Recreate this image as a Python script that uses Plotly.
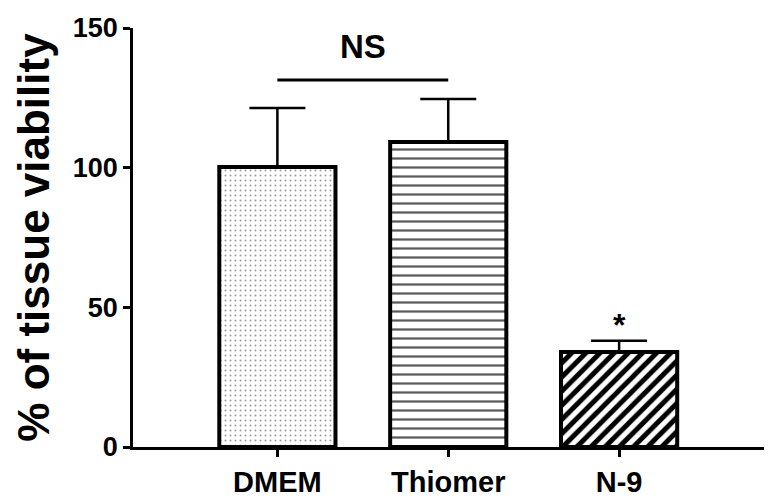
import plotly.graph_objects as go

groups = ["DMEM", "Thiomer", "N-9"]
viability = [100.2, 109.2, 34.0]
sd_upper = [21.2, 15.4, 4.0]
patterns = [".", "-", "/"]

ns_label = "NS"
ns_level = 131.4
ns_text_level = 143.2
star_label = "*"
star_level = 43.5

FONT = "Liberation Sans, Arial, sans-serif"

fig = go.Figure()

fig.add_trace(go.Bar(
    x=groups,
    y=viability,
    width=0.68,
    marker=dict(
        color="white",
        line=dict(color="black", width=4),
        pattern=dict(
            shape=patterns,
            fgcolor=["#9a9a9a", "#5a5a5a", "black"],
            bgcolor="white",
            fgopacity=1,
            size=[5, 9, 10],
            solidity=[0.12, 0.25, 0.5],
        ),
    ),
    error_y=dict(
        type="data",
        symmetric=False,
        array=sd_upper,
        arrayminus=[0, 0, 0],
        color="black",
        thickness=2.5,
        width=28,
    ),
    showlegend=False,
))

# significance marks
fig.add_shape(type="line", xref="x", yref="y", x0=0, x1=1,
              y0=ns_level, y1=ns_level, line=dict(color="black", width=3))
fig.add_annotation(x=0.5, y=ns_text_level, text="<b>" + ns_label + "</b>",
                   showarrow=False, yanchor="middle",
                   font=dict(family=FONT, size=33, color="black"))
fig.add_annotation(x=2, y=star_level, text="<b>" + star_label + "</b>",
                   showarrow=False, yanchor="middle",
                   font=dict(family=FONT, size=32, color="black"))

# page body has an 8px margin, so the figure is offset by it
fig.update_layout(
    width=762,
    height=495,
    margin=dict(l=125, r=6, t=20, b=56),
    paper_bgcolor="white",
    plot_bgcolor="white",
    font=dict(family=FONT, color="black"),
)

fig.update_xaxes(
    range=[-0.845, 2.848],
    automargin=False,
    showline=True, linecolor="black", linewidth=2.5,
    ticks="outside", ticklen=7, tickwidth=2.5, tickcolor="black",
    tickvals=groups,
    ticktext=["<b>" + g + "</b>" for g in groups],
    tickfont=dict(family=FONT, size=29, color="black"),
    ticklabelstandoff=0,
    showgrid=False, zeroline=False,
)

fig.update_yaxes(
    range=[0, 150],
    automargin=False,
    tickvals=[0, 50, 100, 150],
    ticktext=["<b>0</b>", "<b>50</b>", "<b>100</b>", "<b>150</b>"],
    showline=True, linecolor="black", linewidth=2.5,
    ticks="outside", ticklen=7, tickwidth=2.5, tickcolor="black",
    tickfont=dict(family=FONT, size=27, color="black"),
    title=dict(text="<b>% of tissue viability</b>",
               font=dict(family=FONT, size=44, color="black"), standoff=10),
    showgrid=False, zeroline=False,
)

fig.write_html("out.html")
